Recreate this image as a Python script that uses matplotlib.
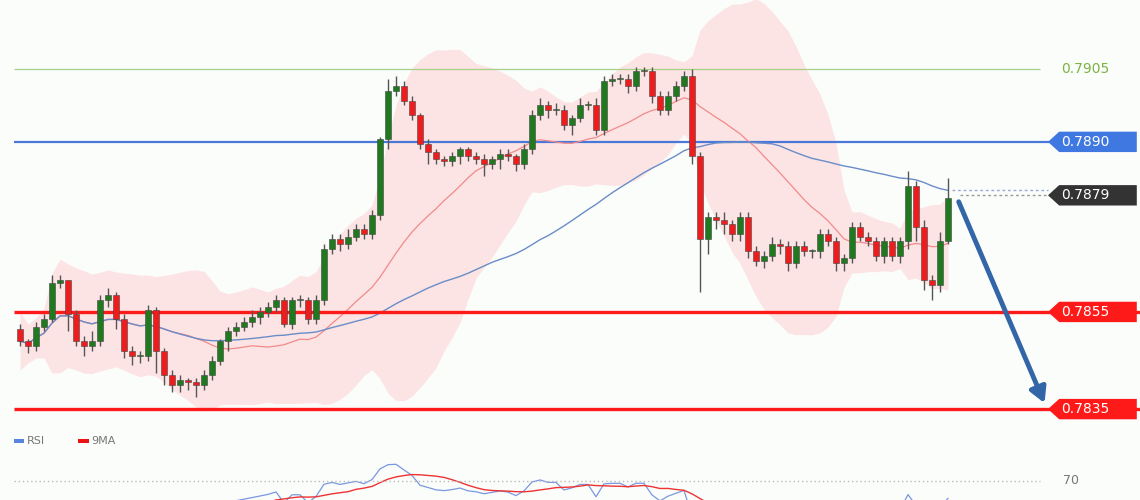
import matplotlib
matplotlib.use("Agg")
import matplotlib.pyplot as plt
from matplotlib.patches import Polygon, Rectangle
import numpy as np
import pandas as pd

closes = [0.78490,0.78480,0.78520,0.78535,0.78610,0.78615,0.78545,0.78490,0.78480,0.78490,
          0.78575,0.78585,0.78535,0.78470,0.78460,0.78460,0.78555,0.78470,0.78420,0.78400,
          0.78410,0.78405,0.78400,0.78420,0.78450,0.78490,0.78510,0.78520,0.78530,0.78540,
          0.78550,0.78560,0.78575,0.78525,0.78575,0.78575,0.78535,0.78575,0.78680,0.78700,
          0.78690,0.78705,0.78720,0.78710,0.78750,0.78905,0.79005,0.79015,0.78985,0.78955,
          0.78895,0.78880,0.78865,0.78860,0.78870,0.78885,0.78870,0.78865,0.78855,0.78865,
          0.78875,0.78870,0.78855,0.78885,0.78955,0.78975,0.78965,0.78965,0.78935,0.78950,
          0.78975,0.78975,0.78925,0.79025,0.79030,0.79030,0.79015,0.79045,0.79045,0.78995,
          0.78965,0.78995,0.79015,0.79035,0.78870,0.78700,0.78745,0.78740,0.78730,0.78710,
          0.78745,0.78675,0.78655,0.78665,0.78690,0.78685,0.78650,0.78685,0.78675,0.78675,
          0.78710,0.78695,0.78650,0.78660,0.78725,0.78705,0.78695,0.78665,0.78695,0.78665,
          0.78695,0.78810,0.78725,0.78615,0.78605,0.78695,0.78785]
first_open = 0.78515
# wick lengths (price units)
upper_wick = [0.00010,0.00005,0.00010,0.00010,0.00015,0.00010,0.00000,0.00010,0.00010,0.00020,
              0.00010,0.00015,0.00005,0.00010,0.00010,0.00010,0.00010,0.00005,0.00005,0.00010,
              0.00010,0.00005,0.00010,0.00010,0.00010,0.00005,0.00010,0.00010,0.00010,0.00015,
              0.00010,0.00010,0.00010,0.00005,0.00005,0.00010,0.00005,0.00010,0.00010,0.00010,
              0.00010,0.00015,0.00010,0.00010,0.00010,0.00005,0.00025,0.00020,0.00010,0.00010,
              0.00005,0.00010,0.00005,0.00005,0.00010,0.00005,0.00005,0.00010,0.00010,0.00005,
              0.00010,0.00010,0.00005,0.00010,0.00010,0.00015,0.00010,0.00015,0.00010,0.00005,
              0.00015,0.00010,0.00015,0.00010,0.00010,0.00010,0.00010,0.00010,0.00010,0.00010,
              0.00010,0.00010,0.00010,0.00010,0.00015,0.00010,0.00010,0.00010,0.00015,0.00010,
              0.00010,0.00010,0.00010,0.00010,0.00015,0.00010,0.00010,0.00010,0.00010,0.00005,
              0.00010,0.00010,0.00010,0.00010,0.00010,0.00010,0.00010,0.00010,0.00010,0.00010,
              0.00010,0.00030,0.00010,0.00015,0.00010,0.00020,0.00040]
lower_wick = [0.00010,0.00015,0.00010,0.00010,0.00005,0.00010,0.00035,0.00010,0.00020,0.00010,
              0.00010,0.00015,0.00020,0.00015,0.00020,0.00015,0.00010,0.00045,0.00020,0.00015,
              0.00015,0.00015,0.00025,0.00010,0.00010,0.00010,0.00020,0.00010,0.00010,0.00010,
              0.00015,0.00010,0.00010,0.00005,0.00010,0.00015,0.00010,0.00010,0.00010,0.00010,
              0.00015,0.00010,0.00010,0.00010,0.00010,0.00010,0.00020,0.00010,0.00010,0.00010,
              0.00010,0.00025,0.00010,0.00010,0.00010,0.00015,0.00010,0.00010,0.00025,0.00010,
              0.00020,0.00010,0.00015,0.00010,0.00010,0.00010,0.00015,0.00010,0.00010,0.00020,
              0.00010,0.00010,0.00010,0.00010,0.00010,0.00010,0.00015,0.00010,0.00010,0.00015,
              0.00010,0.00010,0.00010,0.00010,0.00015,0.00110,0.00030,0.00020,0.00020,0.00015,
              0.00015,0.00015,0.00010,0.00015,0.00010,0.00015,0.00015,0.00010,0.00010,0.00015,
              0.00015,0.00010,0.00015,0.00015,0.00010,0.00010,0.00010,0.00010,0.00015,0.00010,
              0.00015,0.00015,0.00030,0.00020,0.00030,0.00015,0.00005]

levels = [0.7905, 0.7890, 0.7879, 0.7855, 0.7835]
level_labels = ["0.7905", "0.7890", "0.7879", "0.7855", "0.7835"]
target_price = 0.7835
rsi_level = 70

c = np.array(closes)
o = np.concatenate([[first_open], c[:-1]])
hi = np.maximum(o, c) + np.array(upper_wick)
lo = np.minimum(o, c) - np.array(lower_wick)
n = len(c)
idx = np.arange(n)

s = pd.Series(c)
mid = s.rolling(20, min_periods=1).mean()
sd = s.rolling(20, min_periods=2).std().fillna(0.0003).clip(lower=0.0002)
up, dn = mid + 2 * sd, mid - 2 * sd
ma_long = s.rolling(50, min_periods=1).mean()

BG = "#fbfdfb"
fig = plt.figure(figsize=(11.4, 5), dpi=100, facecolor=BG)
ax = fig.add_axes([0, 70/500, 1, 430/500], facecolor=BG)
ax.set_xlim(-2.5, 140)
ax.set_ylim(0.78307, 0.79192)
ax.axis("off")

ax.fill_between(idx, dn, up, color="#fcdede", alpha=0.8, lw=0, zorder=1)
ax.plot(idx, mid, color="#f28a8a", lw=0.9, zorder=2)
ax.plot(idx, ma_long, color="#6a8cc8", lw=1.0, zorder=2)

# levels
ax.hlines(0.7905, -0.75, 127.5, color="#a8cf8a", lw=0.9, zorder=1)
ax.hlines(0.7890, -0.75, 128.7, color="#4a78d8", lw=1.6, zorder=1)
ax.hlines([0.7855, 0.7835], -0.75, 140, color="#ff1a1a", lw=2.4, zorder=3)
ax.hlines(0.7879, 117.5, 128.5, color="#999999", lw=1, ls=(0, (2, 2)), zorder=1)
ax.hlines(ma_long.iloc[-1], 116.5, 128.5, color="#9aa8d8", lw=1, ls=(0, (2, 2)), zorder=1)

for i in range(n):
    col = "#1f7a1f" if c[i] >= o[i] else "#ee1c1c"
    ax.vlines(i, lo[i], hi[i], color="#555555", lw=1, zorder=4)
    b = min(o[i], c[i]); h = max(abs(c[i] - o[i]), 0.00002)
    ax.add_patch(Rectangle((i - 0.33, b), 0.66, h, facecolor=col, edgecolor="#444444", lw=0.4, zorder=5))

box_colors = [None, "#3f78e0", "#333333", "#ff1a1a", "#ff1a1a"]
hh = 0.00021
for lv, lab, bc in zip(levels, level_labels, box_colors):
    if bc is None:
        ax.text(130.1, lv, lab, color="#7cb342", fontsize=10, va="center", ha="left", zorder=6)
        continue
    ax.add_patch(Polygon([(128.5, lv), (129.9, lv + hh), (139.6, lv + hh), (139.6, lv - hh), (129.9, lv - hh)],
                         closed=True, facecolor=bc, edgecolor="none", zorder=6))
    ax.text(130.1, lv, lab, color="white", fontsize=10, va="center", ha="left", zorder=7)

ax.annotate("", xy=(128.2, target_price + 0.00007), xytext=(117.2, closes[-1] - 0.00003),
            arrowprops=dict(arrowstyle="-|>,head_width=0.5,head_length=0.9", color="#3366a6", lw=3.5), zorder=8)

# RSI panel
ax2 = fig.add_axes([0, 0, 1, 70/500], facecolor=BG)
ax2.set_xlim(-2.5, 140)
ax2.set_ylim(54, 112)
ax2.axis("off")
d = s.diff()
gain = d.clip(lower=0).ewm(alpha=1/14, adjust=False).mean()
loss = (-d.clip(upper=0)).ewm(alpha=1/14, adjust=False).mean()
rsi = 100 - 100 / (1 + gain / loss.replace(0, np.nan))
rsi_ma = rsi.rolling(9, min_periods=1).mean()
ax2.plot(idx, rsi, color="#7b97e0", lw=0.9)
ax2.plot(idx, rsi_ma, color="#ee3333", lw=1.0)
ax2.hlines(rsi_level, -0.75, 127.5, color="#bbbbbb", lw=1, ls=(0, (1, 2)))
ax2.text(130.4, rsi_level, str(rsi_level), color="#777777", fontsize=9, va="center")
ax2.add_patch(Rectangle((-0.75, 101.5), 1.3, 3, facecolor="#5b84e0", edgecolor="none"))
ax2.text(0.9, 103, "RSI", color="#777777", fontsize=8, va="center")
ax2.add_patch(Rectangle((7.3, 101.5), 1.3, 3, facecolor="#ee1111", edgecolor="none"))
ax2.text(8.9, 103, "9MA", color="#777777", fontsize=8, va="center")

fig.savefig("out.png", dpi=100, facecolor=BG)
